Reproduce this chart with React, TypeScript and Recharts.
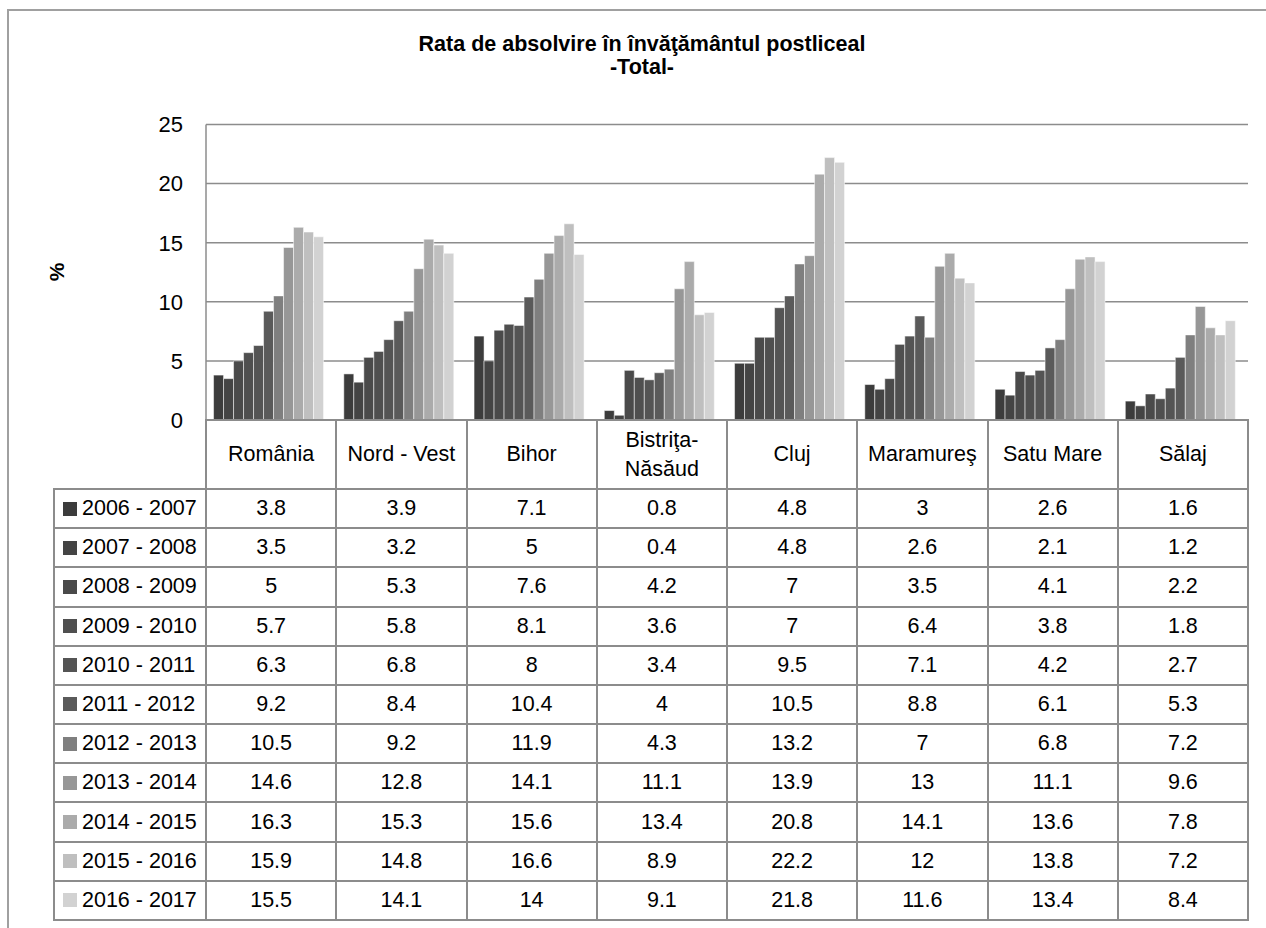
import React from "react";
import { BarChart, Bar, XAxis, YAxis, CartesianGrid } from "recharts";

const regions = [
  "România",
  "Nord - Vest",
  "Bihor",
  "Bistriţa-Năsăud",
  "Cluj",
  "Maramureş",
  "Satu Mare",
  "Sălaj",
];

const years = [
  "2006 - 2007",
  "2007 - 2008",
  "2008 - 2009",
  "2009 - 2010",
  "2010 - 2011",
  "2011 - 2012",
  "2012 - 2013",
  "2013 - 2014",
  "2014 - 2015",
  "2015 - 2016",
  "2016 - 2017",
];

const y2006 = [3.8, 3.9, 7.1, 0.8, 4.8, 3, 2.6, 1.6];
const y2007 = [3.5, 3.2, 5, 0.4, 4.8, 2.6, 2.1, 1.2];
const y2008 = [5, 5.3, 7.6, 4.2, 7, 3.5, 4.1, 2.2];
const y2009 = [5.7, 5.8, 8.1, 3.6, 7, 6.4, 3.8, 1.8];
const y2010 = [6.3, 6.8, 8, 3.4, 9.5, 7.1, 4.2, 2.7];
const y2011 = [9.2, 8.4, 10.4, 4, 10.5, 8.8, 6.1, 5.3];
const y2012 = [10.5, 9.2, 11.9, 4.3, 13.2, 7, 6.8, 7.2];
const y2013 = [14.6, 12.8, 14.1, 11.1, 13.9, 13, 11.1, 9.6];
const y2014 = [16.3, 15.3, 15.6, 13.4, 20.8, 14.1, 13.6, 7.8];
const y2015 = [15.9, 14.8, 16.6, 8.9, 22.2, 12, 13.8, 7.2];
const y2016 = [15.5, 14.1, 14, 9.1, 21.8, 11.6, 13.4, 8.4];

const yTicks = [0, 5, 10, 15, 20, 25];

const series = [y2006, y2007, y2008, y2009, y2010, y2011, y2012, y2013, y2014, y2015, y2016];

const shades = [
  "#3c3c3c",
  "#444444",
  "#4a4a4a",
  "#4f4f4f",
  "#545454",
  "#5a5a5a",
  "#7f7f7f",
  "#979797",
  "#ababab",
  "#bfbfbf",
  "#d2d2d2",
];

const chartData = regions.map((r, i) => {
  const row: Record<string, string | number> = { region: r };
  years.forEach((y, k) => {
    row[y] = series[k][i];
  });
  return row;
});

const FONT = "'Liberation Sans', Arial, sans-serif";
const LINE = "#8c8c8c";

// table geometry
const tableLeft = 54;
const plotLeft = 206;
const plotRight = 1248;
const colW = (plotRight - plotLeft) / regions.length;
const headTop = 420;
const rowsTop = 489;
const rowH = (920 - rowsTop) / years.length;

const cellBase: React.CSSProperties = {
  position: "absolute",
  boxSizing: "border-box",
  border: `2px solid ${LINE}`,
  display: "flex",
  alignItems: "center",
  justifyContent: "center",
  fontSize: 21.5,
  color: "#000",
};

export default function App() {
  const cells: React.ReactNode[] = [];

  regions.forEach((r, i) => {
    const parts = r.includes("-") && !r.includes(" - ") ? [r.split("-")[0] + "-", r.split("-")[1]] : [r];
    cells.push(
      <div
        key={"h" + i}
        style={{
          ...cellBase,
          left: plotLeft + i * colW - 1,
          top: headTop - 1,
          width: colW + 2,
          height: rowsTop - headTop + 2,
          flexDirection: "column",
          lineHeight: "29px",
        }}
      >
        {parts.map((p) => (
          <span key={p}>{p}</span>
        ))}
      </div>
    );
  });

  years.forEach((y, k) => {
    const top = rowsTop + k * rowH - 1;
    cells.push(
      <div
        key={"l" + k}
        style={{
          ...cellBase,
          left: tableLeft - 1,
          top,
          width: plotLeft - tableLeft + 2,
          height: rowH + 2,
          justifyContent: "flex-start",
          paddingLeft: 8,
        }}
      >
        <span
          style={{
            display: "inline-block",
            width: 14,
            height: 14,
            background: shades[k],
            marginRight: 5,
          }}
        />
        {y}
      </div>
    );
    series[k].forEach((v, i) => {
      cells.push(
        <div
          key={"c" + k + "-" + i}
          style={{
            ...cellBase,
            left: plotLeft + i * colW - 1,
            top,
            width: colW + 2,
            height: rowH + 2,
          }}
        >
          {String(v)}
        </div>
      );
    });
  });

  return (
    <div
      style={{
        position: "absolute",
        left: 0,
        top: 0,
        width: 1266,
        height: 928,
        overflow: "hidden",
        background: "#fff",
        fontFamily: FONT,
      }}
    >
      <div
        style={{
          position: "absolute",
          left: 7,
          top: 9,
          width: 1300,
          height: 1000,
          border: "2px solid #a0a0a0",
        }}
      />
      <div
        style={{
          position: "absolute",
          left: 242,
          top: 33,
          width: 800,
          textAlign: "center",
          fontWeight: "bold",
          fontSize: 21.5,
          lineHeight: "23px",
          color: "#000",
        }}
      >
        <div>Rata de absolvire în învăţământul postliceal</div>
        <div>-Total-</div>
      </div>
      <div
        style={{
          position: "absolute",
          left: 37,
          top: 260,
          width: 40,
          height: 24,
          textAlign: "center",
          fontWeight: "bold",
          fontSize: 21,
          lineHeight: "24px",
          transform: "rotate(-90deg)",
        }}
      >
        %
      </div>
      <div style={{ position: "absolute", left: 0, top: 0 }}>
        <BarChart
          width={1266}
          height={450}
          data={chartData}
          margin={{ top: 124.5, right: 1266 - plotRight, bottom: 30, left: plotLeft - 60 }}
          barCategoryGap="5.8%"
          barGap={0}
        >
          <CartesianGrid horizontal vertical={false} stroke={LINE} strokeWidth={1.5} />
          <XAxis dataKey="region" hide />
          <YAxis
            width={60}
            domain={[0, 25]}
            ticks={yTicks}
            interval={0}
            tickSize={0}
            tickMargin={23}
            axisLine={{ stroke: LINE, strokeWidth: 1.5 }}
            tickLine={false}
            tick={{ fontSize: 22, fill: "#000", fontFamily: FONT }}
          />
          {years.map((y, k) => (
            <Bar
              key={y}
              dataKey={y}
              fill={shades[k]}
              stroke="#ffffff"
              strokeWidth={0.5}
              isAnimationActive={false}
            />
          ))}
        </BarChart>
      </div>
      {cells}
    </div>
  );
}
